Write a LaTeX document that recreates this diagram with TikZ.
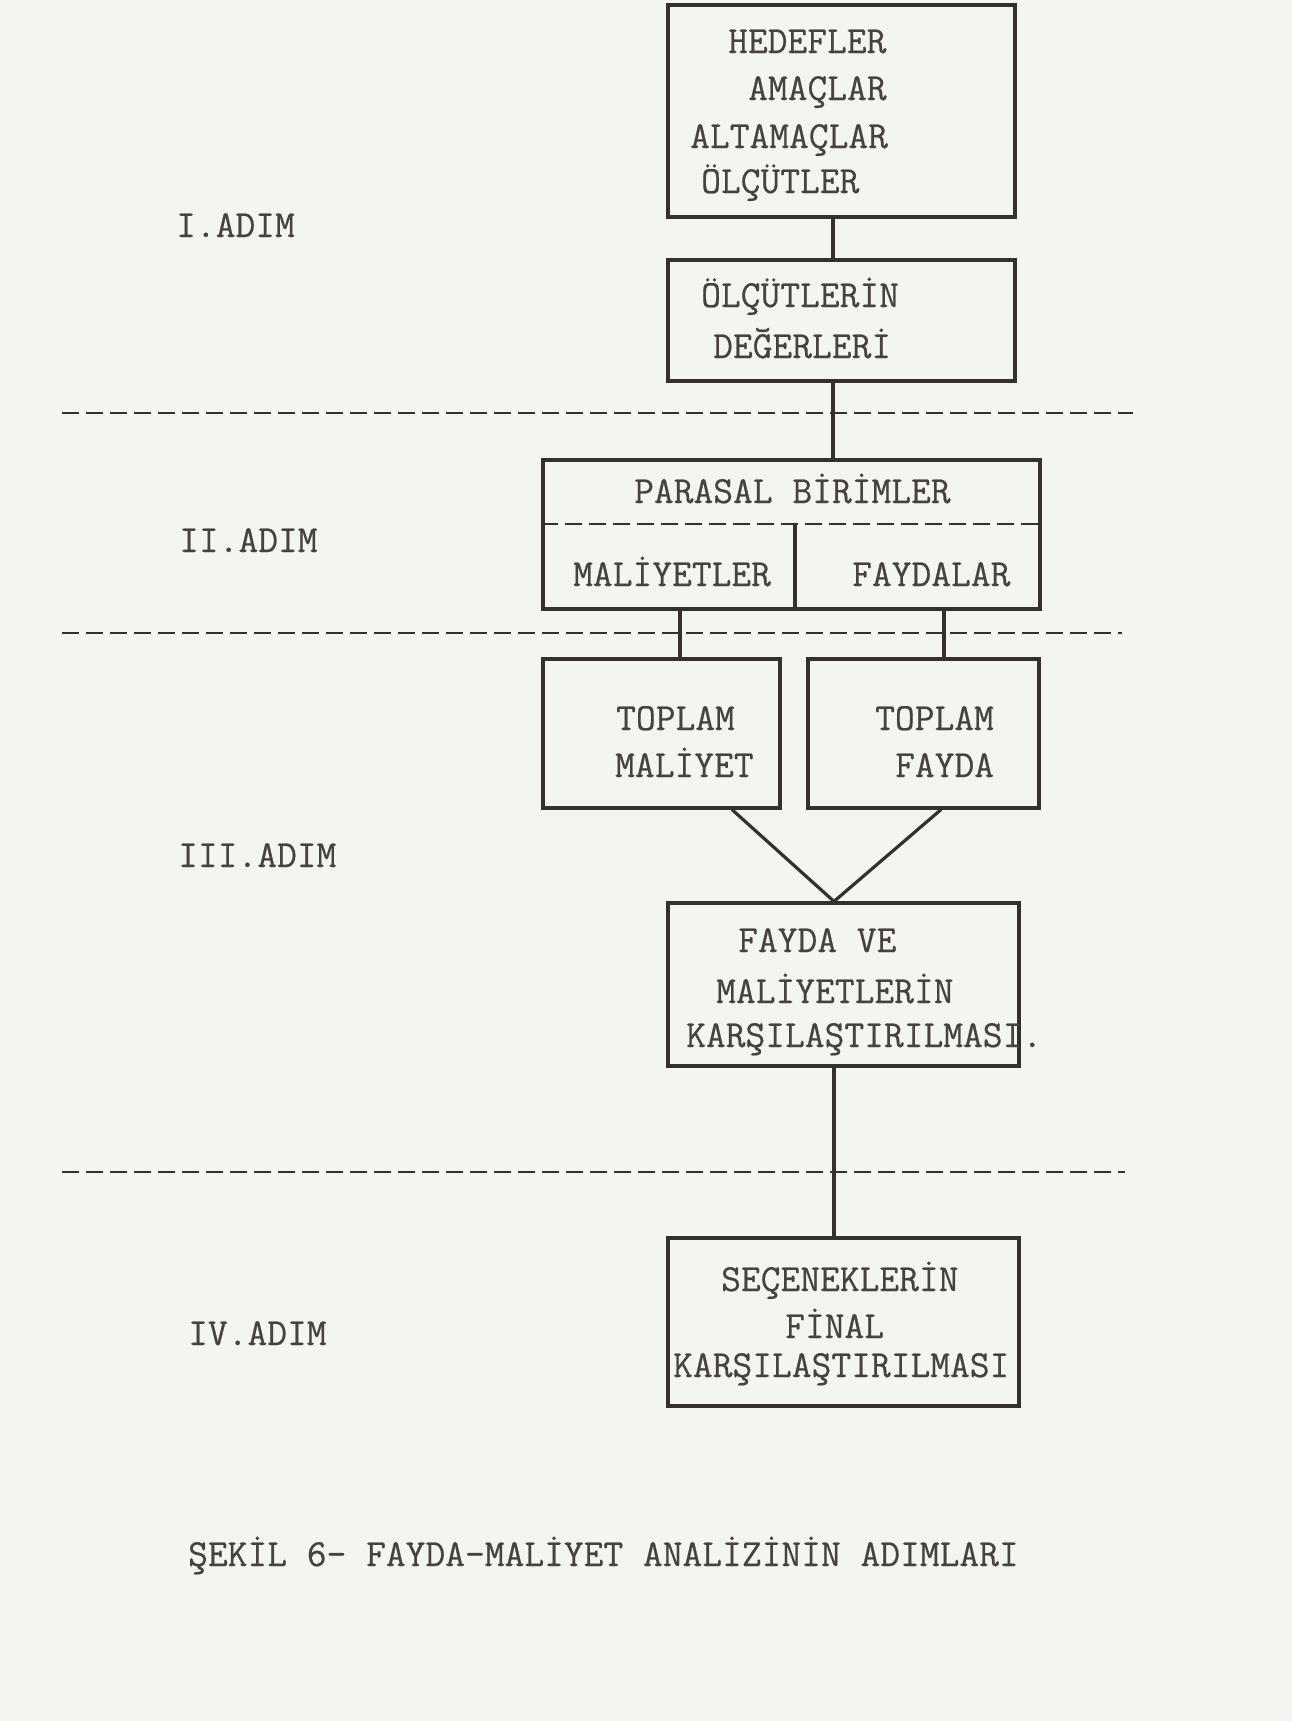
\documentclass[tikz,border=0pt]{standalone}
\usepackage{fontspec}
\setmonofont{Latin Modern Mono}[FakeBold=0.5]
\definecolor{paper}{HTML}{F3F5F1}
\definecolor{ink}{HTML}{35302B}
\definecolor{textink}{HTML}{47423C}
\begin{document}
\begin{tikzpicture}[x=1pt,y=-1pt,
  box/.style={draw=ink, line width=3.2pt, rectangle, inner sep=0pt},
  txt/.style={font=\ttfamily\fontsize{38.4}{44}\selectfont, text=textink, inner sep=0pt, anchor=base west},
  conn/.style={draw=ink, line width=3.2pt},
  dsh/.style={draw=ink, line width=2.8pt, dash pattern=on 17pt off 7pt}]
\fill[paper] (0,0) rectangle (1292,1721);
\useasboundingbox (0,0) rectangle (1292,1721);

% dashed separators
\coordinate (L1a) at (62,413);  \coordinate (L1b) at (1133,413);
\coordinate (L2a) at (62,633);  \coordinate (L2b) at (1122,633);
\coordinate (L3a) at (62,1172); \coordinate (L3b) at (1125,1172);
\draw[dsh] (L1a) -- (L1b);
\draw[dsh] (L2a) -- (L2b);
\draw[dsh] (L3a) -- (L3b);

% boxes
\node[box, minimum width=347pt, minimum height=212pt] (b1) at (841.5,111) {};
\node[box, minimum width=347pt, minimum height=121pt] (b2) at (841.5,320.5) {};
\node[box, minimum width=497pt, minimum height=149pt] (b3) at (791.5,534.5) {};
\node[box, minimum width=237pt, minimum height=149pt] (b4) at (661.5,733.5) {};
\node[box, minimum width=231pt, minimum height=149pt] (b5) at (923.5,733.5) {};
\node[box, minimum width=351pt, minimum height=163pt] (b6) at (843.5,984.5) {};
\node[box, minimum width=351pt, minimum height=168pt] (b7) at (843.5,1322) {};

% inner structure of b3
\coordinate (d3) at (0,524);
\coordinate (dv) at (795,524);
\draw[dsh] (b3.west |- d3) -- (b3.east |- d3);
\draw[conn] (dv) -- (dv |- b3.south);

% connector guide coordinates
\coordinate (cx) at (833,0);
\coordinate (clx) at (680,0);
\coordinate (crx) at (944,0);
\coordinate (vl) at (732,0);
\coordinate (vr) at (941,0);
\coordinate (vap) at (834,0);

\draw[conn] (b1.south -| cx) -- (b2.north -| cx);
\draw[conn] (b2.south -| cx) -- (b3.north -| cx);
\draw[conn] (b3.south -| clx) -- (b4.north -| clx);
\draw[conn] (b3.south -| crx) -- (b5.north -| crx);
\draw[conn, line join=miter] (b4.south -| vl) -- (b6.north -| vap) -- (b5.south -| vr);
\draw[conn] (b6.south -| vap) -- (b7.north -| vap);

% texts in boxes
\node[txt] (t1a) at (728,53) {HEDEFLER};
\node[txt] (t1b) at (748,100) {AMAÇLAR};
\node[txt] (t1c) at (690,148) {ALTAMAÇLAR};
\node[txt] (t1d) at (701,193) {ÖLÇÜTLER};
\node[txt] (t2a) at (701,307) {ÖLÇÜTLERİN};
\node[txt] (t2b) at (713,358) {DEĞERLERİ};
\node[txt] (t3a) at (634,503) {PARASAL BİRİMLER};
\node[txt] (t3b) at (573,586) {MALİYETLER};
\node[txt] (t3c) at (852,586) {FAYDALAR};
\node[txt] (t4a) at (616,730) {TOPLAM};
\node[txt] (t4b) at (615,777) {MALİYET};
\node[txt] (t5a) at (875,730) {TOPLAM};
\node[txt] (t5b) at (895,777) {FAYDA};
\node[txt] (t6a) at (738,952) {FAYDA VE};
\node[txt] (t6b) at (716,1003) {MALİYETLERİN};
\node[txt] (t6c) at (686,1047) {KARŞILAŞTIRILMASI.};
\node[txt] (t7a) at (721,1291) {SEÇENEKLERİN};
\node[txt] (t7b) at (785,1338) {FİNAL};
\node[txt] (t7c) at (673,1377) {KARŞILAŞTIRILMASI};

% step labels
\node[txt] (s1) at (176,237) {I.ADIM};
\node[txt] (s2) at (179,552) {II.ADIM};
\node[txt] (s3) at (178,867) {III.ADIM};
\node[txt] (s4) at (188,1345) {IV.ADIM};

% caption
\node[txt] (cap) at (188,1566) {ŞEKİL 6- FAYDA-MALİYET ANALİZİNİN ADIMLARI};
\end{tikzpicture}
\end{document}
